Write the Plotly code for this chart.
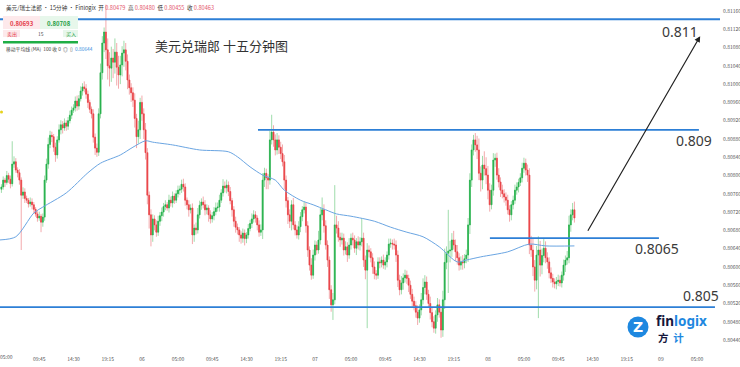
import numpy as np
import plotly.graph_objects as go

# ---------------- data (prices stored as 1e-5 above 0.80000) ----------------
BASE = 0.80000
UNIT = 1e-5

candle_index = list(range(-2, 317))          # 15-minute candles, 0 = day 05 05:00
first_open_pts = 770
close_pts = [
    775, 790, 785, 800, 792, 782, 825, 830, 812, 806,
    790, 757, 764, 750, 746, 738, 742, 736, 726, 716,
    707, 711, 698, 709, 790, 825, 868, 888, 885, 862,
    845, 878, 900, 911, 904, 915, 908, 920, 932, 943,
    948, 963, 952, 968, 985, 994, 990, 978, 960, 945,
    935, 884, 860, 851, 935, 1025, 1090, 1114, 1075, 1040,
    1035, 1057, 1048, 1070, 1037, 1020, 1042, 1068, 1075, 1050,
    1009, 992, 981, 965, 925, 885, 900, 960, 935, 900,
    850, 757, 714, 670, 705, 692, 676, 700, 712, 720,
    732, 736, 729, 746, 740, 755, 746, 760, 768, 770,
    781, 775, 746, 736, 725, 729, 670, 685, 681, 714,
    735, 742, 736, 725, 729, 714, 705, 712, 721, 729,
    731, 746, 762, 777, 773, 779, 765, 745, 725, 700,
    687, 681, 670, 663, 674, 662, 670, 684, 695, 705,
    714, 707, 692, 676, 681, 790, 805, 795, 790, 878,
    895, 878, 856, 878, 862, 848, 830, 790, 745, 714,
    700, 736, 692, 681, 670, 688, 710, 725, 731, 690,
    637, 604, 582, 626, 648, 637, 659, 714, 725, 690,
    648, 615, 550, 517, 528, 692, 685, 665, 659, 663,
    637, 644, 626, 648, 663, 659, 641, 655, 648, 655,
    663, 615, 593, 637, 633, 620, 600, 585, 582, 611,
    609, 615, 604, 611, 626, 650, 652, 650, 648, 626,
    571, 550, 565, 576, 582, 575, 560, 540, 525, 515,
    501, 488, 506, 528, 555, 567, 540, 520, 500, 480,
    466, 495, 517, 501, 462, 528, 610, 630, 635, 637,
    659, 648, 633, 620, 604, 611, 609, 618, 626, 692,
    790, 856, 878, 867, 856, 805, 790, 823, 815, 801,
    768, 736, 768, 834, 838, 801, 786, 768, 760, 753,
    746, 725, 714, 736, 746, 768, 775, 785, 795, 816,
    827, 812, 801, 648, 637, 600, 571, 626, 637, 604,
    625, 641, 620, 611, 587, 575, 567, 563, 568, 571,
    565, 582, 604, 615, 620, 692, 714, 725, 707,
]
upper_wick_pts = [
    6, 8, 5, 10, 6, 8, 50, 12, 8, 6,
    8, 6, 10, 8, 6, 5, 10, 8, 6, 5,
    6, 10, 5, 8, 10, 12, 15, 10, 8, 6,
    10, 8, 12, 10, 8, 10, 6, 8, 10, 8,
    8, 10, 12, 8, 10, 8, 12, 10, 8, 6,
    6, 10, 8, 10, 12, 20, 15, 10, 60, 25,
    30, 25, 20, 30, 20, 25, 20, 15, 20, 15,
    15, 12, 10, 12, 15, 10, 20, 10, 15, 12,
    15, 10, 8, 12, 10, 8, 10, 12, 8, 10,
    8, 10, 6, 12, 8, 10, 6, 8, 10, 8,
    10, 12, 8, 6, 10, 8, 10, 8, 12, 15,
    10, 8, 12, 10, 8, 6, 10, 8, 10, 12,
    10, 12, 8, 15, 10, 12, 8, 10, 6, 8,
    10, 8, 6, 8, 10, 8, 6, 10, 8, 12,
    10, 8, 6, 10, 12, 15, 12, 10, 8, 20,
    38, 15, 12, 15, 10, 12, 20, 15, 10, 8,
    12, 10, 15, 8, 10, 12, 10, 8, 12, 10,
    10, 8, 15, 12, 10, 8, 20, 15, 27, 12,
    12, 10, 8, 10, 15, 87, 20, 15, 10, 12,
    10, 12, 10, 15, 10, 12, 10, 8, 12, 10,
    44, 12, 10, 15, 10, 8, 10, 12, 8, 10,
    10, 8, 12, 10, 8, 12, 10, 8, 12, 10,
    10, 12, 15, 10, 12, 10, 8, 10, 12, 10,
    10, 15, 12, 15, 20, 15, 12, 10, 15, 12,
    12, 10, 15, 12, 10, 20, 30, 15, 90, 20,
    15, 20, 12, 15, 10, 12, 15, 10, 12, 15,
    15, 12, 11, 15, 20, 25, 15, 20, 30, 25,
    20, 15, 12, 15, 10, 12, 15, 10, 12, 10,
    10, 12, 10, 8, 10, 12, 10, 8, 10, 12,
    12, 10, 12, 15, 20, 25, 15, 20, 30, 20,
    15, 20, 15, 12, 10, 12, 10, 8, 10, 12,
    10, 8, 12, 10, 15, 20, 12, 15, 18,
]
lower_wick_pts = [
    8, 6, 10, 5, 8, 10, 6, 8, 6, 10,
    10, 120, 8, 10, 6, 8, 6, 10, 8, 6,
    8, 6, 22, 10, 8, 6, 10, 8, 12, 10,
    15, 8, 6, 10, 12, 6, 10, 8, 6, 8,
    6, 8, 10, 8, 6, 10, 8, 10, 12, 8,
    10, 12, 15, 10, 8, 10, 15, 20, 20, 30,
    40, 30, 35, 25, 40, 30, 20, 25, 30, 20,
    20, 15, 20, 15, 20, 25, 15, 20, 15, 20,
    15, 20, 30, 25, 15, 12, 10, 8, 10, 12,
    10, 8, 6, 10, 8, 10, 8, 6, 8, 10,
    8, 10, 12, 10, 15, 8, 20, 15, 10, 8,
    8, 10, 8, 12, 10, 15, 10, 8, 10, 8,
    8, 10, 6, 8, 10, 12, 10, 8, 15, 12,
    12, 10, 15, 12, 10, 15, 10, 8, 6, 10,
    8, 10, 12, 10, 8, 20, 15, 25, 20, 10,
    10, 15, 12, 10, 15, 12, 10, 20, 15, 20,
    15, 20, 10, 12, 8, 10, 12, 10, 8, 15,
    15, 12, 10, 8, 12, 10, 8, 10, 12, 15,
    10, 15, 20, 15, 33, 10, 12, 10, 15, 10,
    12, 10, 15, 8, 10, 12, 10, 15, 10, 12,
    10, 15, 20, 127, 12, 10, 15, 12, 10, 8,
    12, 10, 8, 10, 12, 10, 8, 12, 10, 15,
    15, 12, 10, 15, 10, 12, 15, 10, 12, 10,
    12, 15, 10, 12, 10, 15, 12, 10, 15, 12,
    10, 12, 15, 12, 17, 15, 20, 15, 87, 25,
    15, 10, 20, 15, 12, 10, 15, 12, 10, 15,
    20, 15, 12, 15, 20, 15, 25, 20, 15, 20,
    20, 15, 10, 12, 15, 10, 12, 15, 10, 12,
    12, 10, 15, 12, 10, 8, 10, 12, 8, 10,
    10, 12, 15, 20, 15, 20, 25, 20, 138, 25,
    20, 15, 12, 15, 12, 10, 12, 10, 12, 10,
    8, 10, 12, 15, 10, 12, 15, 12, 10,
]

# 100-period moving average
ma_index = [-3, 6, 16, 21, 34, 46, 53, 64, 71, 78, 82, 93, 108, 124, 129, 136, 143, 150,
            155, 164, 171, 178, 184, 192, 205, 214, 223, 232, 241, 251, 256, 264, 279,
            291, 300, 316]
ma_pts = [659, 666, 718, 731, 762, 806, 827, 845, 862, 876, 873, 867, 856, 852, 841, 819,
          801, 790, 768, 746, 736, 725, 716, 711, 700, 687, 676, 666, 644, 611, 615, 622,
          633, 650, 646, 646]

tick_pos = [0, 19, 38, 57, 76, 96, 115, 134, 153, 172, 192, 211, 230, 249, 268, 288,
            307, 326, 345, 364, 384]
tick_text = ['05:00', '09:45', '14:30', '19:15', '06', '05:00', '09:45', '14:30', '19:15',
             '07', '05:00', '09:45', '14:30', '19:15', '08', '05:00', '09:45', '14:30',
             '19:15', '09', '05:00']

# drawn levels: (price, x start index, x end index, label)
level_prices = [0.81142, 0.80900, 0.80663, 0.80512]
level_x0 = [-2.8, 140.4, 269.1, -2.8]
level_x1 = [396.8, 385.1, 362.9, 394.0]
level_labels = ['0.811', '0.809', '0.8065', '0.805']

# ---------------- build ----------------
c = BASE + np.array(close_pts) * UNIT
o = np.concatenate([[BASE + first_open_pts * UNIT], c[:-1]])
hi = np.maximum(o, c) + np.array(upper_wick_pts) * UNIT
lo = np.minimum(o, c) - np.array(lower_wick_pts) * UNIT
ma = BASE + np.array(ma_pts) * UNIT

GREEN, RED = '#22b04a', '#ea3f43'
LGREEN, LRED = '#9fdcab', '#f3a9ac'

fig = go.Figure()
# wicks
fig.add_trace(go.Candlestick(
    x=candle_index, open=o, high=hi, low=lo, close=c,
    increasing=dict(line=dict(color=LGREEN, width=1), fillcolor=LGREEN),
    decreasing=dict(line=dict(color=LRED, width=1), fillcolor=LRED),
    whiskerwidth=0, hoverinfo='skip'))
# bodies
fig.add_trace(go.Candlestick(
    x=candle_index, open=o, high=np.maximum(o, c), low=np.minimum(o, c), close=c,
    increasing=dict(line=dict(color=GREEN, width=0.6), fillcolor=GREEN),
    decreasing=dict(line=dict(color=RED, width=0.6), fillcolor=RED),
    whiskerwidth=0, hoverinfo='skip'))
# MA
fig.add_trace(go.Scatter(x=ma_index, y=ma, mode='lines',
                         line=dict(color='#6aa5e2', width=1, shape='spline', smoothing=0.8),
                         hoverinfo='skip'))

W_PLOT, H_PLOT = 720, 347


def px(x, y):
    return x / W_PLOT, 1 - y / H_PLOT


shapes = []
for p, x0, x1 in zip(level_prices, level_x0, level_x1):
    shapes.append(dict(type='line', xref='x', yref='y', x0=x0, x1=x1, y0=p, y1=p,
                       line=dict(color='#2d7fd6', width=1.8)))


def rect(x0, y0, x1, y1, color):
    a0, b0 = px(x0, y0)
    a1, b1 = px(x1, y1)
    shapes.append(dict(type='rect', xref='paper', yref='paper', x0=a0, x1=a1, y0=b1, y1=b0,
                       fillcolor=color, line=dict(width=0), layer='above'))


rect(3, 16, 40, 29, '#fde9eb')
rect(40, 16, 78, 29, '#e7f7eb')
rect(3, 30, 20, 37, '#fde9eb')
rect(63, 30, 78, 37, '#e7f7eb')
rect(3, 41, 78, 43.5, '#1fae45')
# logo circle
cx0, cy0 = px(627.5, 316.5)
cx1, cy1 = px(648.5, 337.5)
shapes.append(dict(type='circle', xref='paper', yref='paper', x0=cx0, x1=cx1, y0=cy1, y1=cy0,
                   fillcolor='#1e88e0', line=dict(width=0), layer='above'))
# small yellow marker on left edge
yx0, yy0 = px(0, 110.5)
yx1, yy1 = px(3, 113.5)
shapes.append(dict(type='circle', xref='paper', yref='paper', x0=yx0, x1=yx1, y0=yy1, y1=yy0,
                   fillcolor='#e6d21c', line=dict(width=0), layer='above'))

annotations = []


def text(x, y, t, size, color='#333', xanchor='center', bold=False, family=None, pad=1):
    a, b = px(x, y)
    if bold:
        t = '<b>' + t + '</b>'
    d = dict(xref='paper', yref='paper', x=a, y=b, text=t, showarrow=False,
             xanchor=xanchor, yanchor='middle', font=dict(size=size, color=color),
             borderpad=pad)
    if family:
        d['font']['family'] = family
    annotations.append(d)


SANS = 'Noto Sans, Noto Sans CJK SC, sans-serif'
text(221, 45.5, '美元兑瑞郎 十五分钟图', 13, '#333')
text(680, 31, level_labels[0], 14, '#3a3a3a', family=SANS)
text(693.5, 140, level_labels[1], 14, '#3a3a3a', family=SANS)
text(657, 248, level_labels[2], 14, '#3a3a3a', family=SANS)
text(701, 295.5, level_labels[3], 14, '#3a3a3a', family=SANS)

pink = '#e4566c'
header = ("美元/瑞士法郎 · 15分钟 · Finlogix &nbsp;开 <span style='color:%s'>0.80479</span>"
          " &nbsp;高 <span style='color:%s'>0.80480</span> &nbsp;低 <span style='color:%s'>0.80455</span>"
          " &nbsp;收 <span style='color:%s'>0.80463</span>") % (pink, pink, pink, pink)
text(4, 7.5, header, 5.6, '#333', xanchor='left')
text(21.5, 23, '0.80693', 6, '#e43b4a', bold=True)
text(59, 23, '0.80708', 6, '#1f9e45', bold=True)
text(11.5, 33.5, '卖出', 5, '#e43b4a')
text(41, 33.5, '15', 5, '#555')
text(70.5, 33.5, '买入', 5, '#1f9e45')
text(4, 48.5, "移动平均线 (MA) &nbsp;100 收 0 &nbsp;◎ &nbsp;▯ &nbsp;<span style='color:#3b8fe0'>0.80644</span>",
     4.8, '#444', xanchor='left')

# first time label sits on the left edge of the chart
text(-1, 356, tick_text[0], 5, '#555', xanchor='left', pad=0)

# logo
text(638, 327, 'Z', 14, 'white', bold=True, family='DejaVu Sans')
text(655, 320.5, "<span style='color:#15173b'>fin</span><span style='color:#1e88e0'>logix</span>",
     13.5, '#1e88e0', xanchor='left', bold=True, family='Noto Sans, DejaVu Sans', pad=0)
text(657, 337.5, "<span style='color:#15173b'>方</span>&nbsp;&nbsp;<span style='color:#1e88e0'>计</span>",
     10.5, '#1e88e0', xanchor='left', bold=True, family='Noto Sans CJK SC', pad=0)

# arrow
annotations.append(dict(xref='x', yref='y', axref='x', ayref='y',
                        x=385.8, y=0.81105, ax=323.0, ay=0.80676, text='', showarrow=True,
                        arrowhead=2, arrowsize=1, arrowwidth=1.2, arrowcolor='#222'))

fig.update_layout(
    width=740, height=367, margin=dict(l=0, r=20, t=0, b=20),
    paper_bgcolor='white', plot_bgcolor='white', showlegend=False,
    font=dict(family='Noto Sans CJK SC, Noto Sans, sans-serif', color='#333'),
    shapes=shapes, annotations=annotations,
    xaxis=dict(range=[-2.775, 396.8], tickvals=tick_pos[1:], ticktext=tick_text[1:],
               showgrid=False, zeroline=False, showline=False, ticks='',
               tickfont=dict(size=5, color='#555'), rangeslider=dict(visible=False),
               automargin=False, ticklabelstandoff=8, fixedrange=True),
    yaxis=dict(side='right', range=[0.804248, 0.811841], tick0=0.8044, dtick=0.0004,
               tickformat='.5f', showgrid=False, zeroline=False, showline=False, ticks='',
               tickfont=dict(size=5, color='#555'), automargin=False, ticklabelstandoff=2,
               fixedrange=True),
)

fig.write_html('out.html')
